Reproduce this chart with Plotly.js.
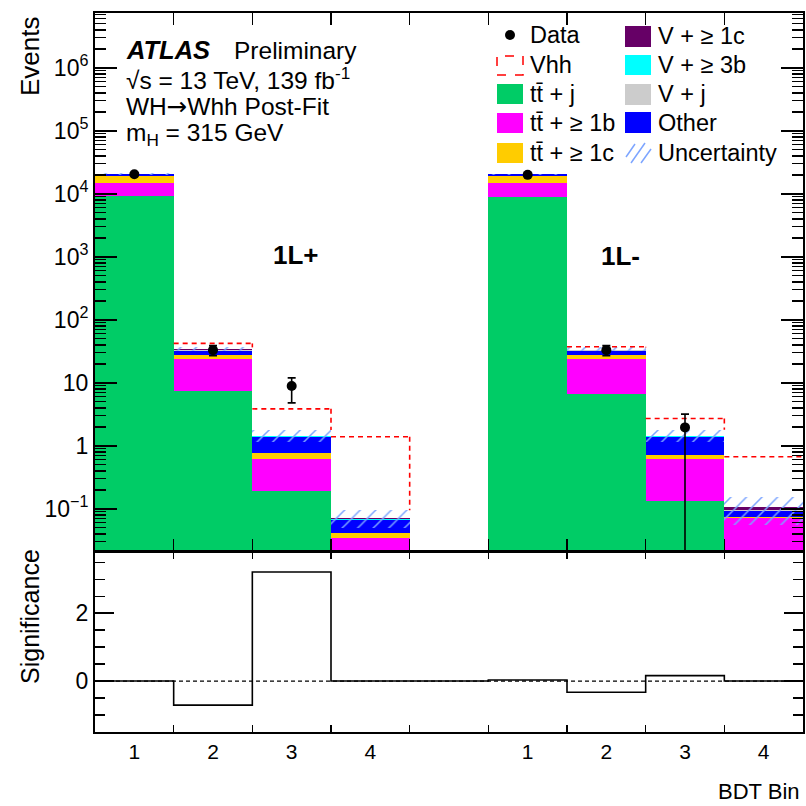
<!DOCTYPE html>
<html><head><meta charset="utf-8">
<script src="https://cdn.plot.ly/plotly-3.0.1.min.js"></script>
<style>html,body{margin:0;padding:0;background:#fff}</style>
</head><body><div id="chart" style="width:806px;height:806px"></div>
<script>
// ---- data (9 bins: 1L+ bins 1-4, empty separator, 1L- bins 1-4) ----
const binIndex  = [0, 1, 2, 3, 4, 5, 6, 7, 8];
const binLabels = ['1', '2', '3', '4', ' ', '1', '2', '3', '4'];
const ttj   = [9300, 7.4, 0.193, 0.01, 0, 8960, 6.7, 0.132, 0.01];
const ttb   = [5300, 16.1, 0.417, 0.0246, 0, 6000, 16.8, 0.478, 0.061];
const ttc   = [4500, 4.3, 0.16, 0.0068, 0, 4000, 4.3, 0.11, 0.0037];
const other = [1400, 4.6, 0.61, 0.0246, 0, 1450, 4.6, 0.67, 0.0193];
const vj    = [30, 0.2, 0.01, 0.001, 0, 30, 0.2, 0.01, 0.001];
const v3b   = [60, 1.0, 0.03, 0.002, 0, 60, 0.8, 0.03, 0.0005];
const v1c   = [40, 0.3, 0.01, 0.003, 0, 40, 0.3, 0.01, 0.01];
const uncLow  = [19900, 31.5, 1.15, 0.05, 0, 19800, 31.5, 1.16, 0.055];
const uncHigh = [21100, 36.5, 1.78, 0.095, 0, 21000, 36.5, 1.8, 0.155];
const vhhTotal = [20600, 42.2, 3.86, 1.39, 0, 20500, 37.3, 2.72, 0.67];
const dataY       = [20500, 33, 8.9, null, null, 20000, 33, 1.96, null];
const dataErrUp   = [143, 6, 3.1, 0, 0, 141, 6, 1.22, 0];
const dataErrDown = [143, 6, 4.1, 0, 0, 141, 6, 1.95, 0];
const significance = [0, -0.71, 3.21, 0, 0, 0.03, -0.33, 0.16, 0];

// ---- styles ----
const FONT = 'Liberation Sans, Arial, Helvetica, sans-serif';
const comps = [
  {name: 'tt̄ + j',     y: ttj,   color: '#00cc66'},
  {name: 'tt̄ + ≥ 1b',  y: ttb,   color: '#ff00ff'},
  {name: 'tt̄ + ≥ 1c',  y: ttc,   color: '#ffcc00'},
  {name: 'Other',       y: other, color: '#0000ff'},
  {name: 'V + j',       y: vj,    color: '#cccccc'},
  {name: 'V + ≥ 3b',    y: v3b,   color: '#00ffff'},
  {name: 'V + ≥ 1c',    y: v1c,   color: '#660066'}
];
const HATCH = 'rgb(125,165,255)';

const edges = binIndex.map(i => i - 0.5).concat([binIndex[binIndex.length - 1] + 0.5]);
const traces = [];
let cum = binIndex.map(() => 0);
comps.forEach((c, k) => {
  traces.push({
    type: 'bar', x: binIndex, y: c.y, base: k === 0 ? undefined : cum.slice(),
    width: 1, marker: {color: c.color, line: {width: 0}},
    xaxis: 'x', yaxis: 'y', showlegend: false, hoverinfo: 'skip'
  });
  cum = cum.map((v, i) => v + c.y[i]);
});
// uncertainty hatch
traces.push({
  type: 'bar', x: binIndex, y: uncHigh.map((h, i) => h - uncLow[i]), base: uncLow,
  width: 1,
  marker: {color: HATCH, line: {width: 0},
           pattern: {shape: '/', fillmode: 'replace', size: 11, solidity: 0.14}},
  xaxis: 'x', yaxis: 'y', showlegend: false, hoverinfo: 'skip'
});
// Vhh dashed outline (visible parts above background stack)
const vx = [], vy = [];
binIndex.forEach(i => {
  if (vhhTotal[i] > uncHigh[i]) { vx.push(edges[i], edges[i + 1], null); vy.push(vhhTotal[i], vhhTotal[i], null); }
});
for (let i = 0; i < binIndex.length - 1; i++) {
  const a = vhhTotal[i], b = vhhTotal[i + 1];
  const hi = Math.max(a, b);
  const side = a >= b ? uncHigh[i] : uncHigh[i + 1];
  const lo = Math.max(Math.min(a, b), side);
  if (hi > lo) { vx.push(edges[i + 1], edges[i + 1], null); vy.push(hi, lo, null); }
}
traces.push({
  type: 'scatter', mode: 'lines', x: vx, y: vy, connectgaps: false,
  line: {color: '#ff0000', width: 1.6, dash: '5px,4px'},
  xaxis: 'x', yaxis: 'y', showlegend: false, hoverinfo: 'skip'
});
// data
traces.push({
  type: 'scatter', mode: 'markers', x: binIndex, y: dataY,
  marker: {color: 'black', size: 10},
  error_y: {type: 'data', symmetric: false, array: dataErrUp, arrayminus: dataErrDown,
            color: 'black', thickness: 1.6, width: 4},
  xaxis: 'x', yaxis: 'y', showlegend: false, hoverinfo: 'skip'
});
// significance
traces.push({
  type: 'scatter', mode: 'lines', x: edges, y: significance.concat([significance[significance.length - 1]]),
  line: {color: 'black', width: 1.6, shape: 'hv'},
  xaxis: 'x2', yaxis: 'y2', showlegend: false, hoverinfo: 'skip'
});

// ---- layout helpers (pixel -> paper) ----
const L = 95, R = 803, T = 13, B = 732;
const X = px => (px - L) / (R - L);
const Y = py => (B - py) / (B - T);

const shapes = [
  {type: 'line', xref: 'x2', yref: 'y2', x0: -0.5, x1: 8.5, y0: 0, y1: 0,
   line: {color: 'black', width: 1.2, dash: '4px,3px'}, layer: 'below'}
];
const annotations = [];
function txt(text, px, py, size, opts) {
  annotations.push(Object.assign({text: text, xref: 'paper', yref: 'paper', x: X(px), y: Y(py),
    xanchor: 'left', yanchor: 'middle', showarrow: false,
    font: {family: FONT, size: size, color: 'black'}}, opts || {}));
}
function rect(x0, y0, x1, y1, fill, line) {
  shapes.push({type: 'rect', xref: 'paper', yref: 'paper', x0: X(x0), x1: X(x1), y0: Y(y1), y1: Y(y0),
    fillcolor: fill, line: line || {width: 0}});
}
// legend column 1
shapes.push({type: 'circle', xref: 'paper', yref: 'paper', x0: X(505), x1: X(515), y0: Y(40), y1: Y(30),
  fillcolor: 'black', line: {width: 0}});
const LF = 23.5;
txt('Data', 528, 35, LF);
rect(497, 56, 523, 75, 'rgba(0,0,0,0)', {color: '#ff0000', width: 1.5, dash: 'dash'});
txt('Vhh', 528, 65, LF);
rect(497, 84, 523, 104, comps[0].color); txt(comps[0].name, 528, 94, LF);
rect(497, 113, 523, 133, comps[1].color); txt(comps[1].name, 528, 123, LF);
rect(497, 143, 523, 163, comps[2].color); txt(comps[2].name, 528, 153, LF);
// legend column 2
rect(625, 26, 651, 47, comps[6].color); txt(comps[6].name, 656, 36, LF);
rect(625, 55, 651, 75, comps[5].color); txt(comps[5].name, 656, 65, LF);
rect(625, 84, 651, 105, comps[4].color); txt(comps[4].name, 656, 94, LF);
rect(625, 112, 651, 133, comps[3].color); txt(comps[3].name, 656, 123, LF);
[[626, 157, 635, 144], [631, 163, 645, 143], [641, 163, 651, 149]].forEach(s => {
  shapes.push({type: 'line', xref: 'paper', yref: 'paper', x0: X(s[0]), y0: Y(s[1]), x1: X(s[2]), y1: Y(s[3]),
    line: {color: HATCH, width: 1.5}});
});
txt('Uncertainty', 656, 153, LF);

// ATLAS label
const AF = 24.5;
txt('<b><i>ATLAS</i></b>', 124, 50, AF + 1);
txt('Preliminary', 232, 50, AF);
txt('√s = 13 TeV, 139 fb<sup>-1</sup>', 124, 79, AF);
txt('WH<span style="font-family:DejaVu Sans">→</span>Whh Post-Fit', 124, 106, AF);
txt('m<sub>H</sub> = 315 GeV', 124, 134, AF);
// region labels
txt('<b>1L+</b>', 296, 255, 26, {xanchor: 'center'});
txt('<b>1L-</b>', 620, 256, 26, {xanchor: 'center'});
// axis titles
txt('Events', 30, 56, 26, {xanchor: 'center', textangle: -90});
txt('Significance', 30, 617, 25, {xanchor: 'center', textangle: -90});
txt('BDT Bin', 802, 792, 22, {xanchor: 'right'});

const axLine = {showline: true, linecolor: 'black', linewidth: 2, mirror: 'allticks',
  showgrid: false, zeroline: false, tickcolor: 'black', tickwidth: 1.5};
const layout = {
  width: 806, height: 806,
  margin: {l: L, r: 806 - R, t: T, b: 806 - B, pad: 0},
  paper_bgcolor: 'white', plot_bgcolor: 'white',
  barmode: 'overlay', bargap: 0, showlegend: false,
  font: {family: FONT, color: 'black'},
  xaxis: Object.assign({}, axLine, {
    domain: [0, 1], anchor: 'y', range: [-0.5, 8.5],
    tickmode: 'array', tickvals: edges.slice(1, -1), ticks: 'inside', ticklen: 12,
    showticklabels: false
  }),
  yaxis: Object.assign({}, axLine, {
    domain: [0.2517, 1], anchor: 'x', type: 'log', range: [-1.67, 6.87],
    tickmode: 'array',
    tickvals: [0.1, 1, 10, 100, 1000, 1e4, 1e5, 1e6],
    ticktext: ['10<sup>−1</sup>', '1', '10', '10<sup>2</sup>', '10<sup>3</sup>', '10<sup>4</sup>', '10<sup>5</sup>', '10<sup>6</sup>'],
    ticks: 'inside', ticklen: 22,
    tickfont: {family: FONT, size: 23, color: 'black'},
    minor: {ticks: 'inside', ticklen: 11, dtick: 'D1', tickcolor: 'black', tickwidth: 1.3}
  }),
  xaxis2: Object.assign({}, axLine, {
    domain: [0, 1], anchor: 'y2', range: [-0.5, 8.5],
    tickmode: 'array', tickvals: binIndex, ticktext: binLabels, ticks: '',
    tickfont: {family: FONT, size: 21, color: 'black'}, ticklabelstandoff: 0,
    minor: {tickmode: 'array', tickvals: edges.slice(1, -1), ticks: 'inside', ticklen: 7,
            tickcolor: 'black', tickwidth: 1.3}
  }),
  yaxis2: Object.assign({}, axLine, {
    domain: [0, 0.2503], anchor: 'x2', range: [-1.5, 3.8],
    tickmode: 'array', tickvals: [0, 2], ticktext: ['0', '2'],
    ticks: 'inside', ticklen: 19,
    tickfont: {family: FONT, size: 23, color: 'black'},
    minor: {ticks: 'inside', ticklen: 10, dtick: 0.5, tick0: 0, tickcolor: 'black', tickwidth: 1.3}
  }),
  shapes: shapes, annotations: annotations
};
Plotly.newPlot('chart', traces, layout, {staticPlot: true, displayModeBar: false});
</script></body></html>
